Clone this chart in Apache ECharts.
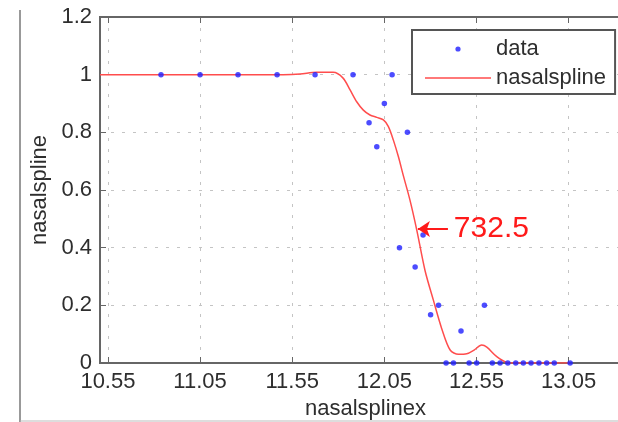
<!DOCTYPE html>
<html><head><meta charset="utf-8">
<script src="https://cdn.jsdelivr.net/npm/echarts@6/dist/echarts.min.js"></script>
<style>html,body{margin:0;padding:0;background:#fff}#c{width:618px;height:422px}</style>
</head><body><div id="c"></div>
<script>
// ---- data ----
const dataX = [10.838, 11.05, 11.256, 11.468, 11.674, 11.88, 11.967, 12.009, 12.05, 12.092, 12.132, 12.175, 12.217, 12.26, 12.301, 12.344, 12.385, 12.425, 12.466, 12.51, 12.551, 12.593, 12.636, 12.678, 12.72, 12.763, 12.804, 12.846, 12.889, 12.931, 12.972, 13.058];
const dataY = [1, 1, 1, 1, 1, 1, 0.833, 0.75, 0.9, 1, 0.4, 0.8, 0.333, 0.444, 0.167, 0.2, 0, 0, 0.111, 0, 0, 0.2, 0, 0, 0, 0, 0, 0, 0, 0, 0, 0];
const splineX = [10.507, 11.2, 11.5, 11.593, 11.68, 11.772, 11.826, 11.864, 11.9, 11.936, 11.972, 12.009, 12.045, 12.072, 12.099, 12.126, 12.153, 12.189, 12.226, 12.271, 12.316, 12.361, 12.407, 12.452, 12.497, 12.537, 12.578, 12.606, 12.66, 12.714, 12.75, 13.058];
const splineY = [1, 1, 1, 1.002, 1.008, 1.008, 0.988, 0.947, 0.906, 0.877, 0.86, 0.852, 0.843, 0.82, 0.773, 0.716, 0.65, 0.565, 0.461, 0.32, 0.218, 0.12, 0.045, 0.03, 0.032, 0.045, 0.062, 0.055, 0.022, 0.002, 0, 0];
const xTicks = [10.55, 11.05, 11.55, 12.05, 12.55, 13.05];
const yTicks = [0, 0.2, 0.4, 0.6, 0.8, 1, 1.2];
const annotText = '732.5';
const annotArrowFrom = [12.395, 0.465];
const annotArrowTo = [12.232, 0.465];
const annotTextAt = [12.40, 0.465];

const FONT = '"Liberation Sans", Arial, Helvetica, sans-serif';
const TXT = '#2e2e2e';
const DOT = '#1f1fff';
const RED = '#ff4d4d';
const FS = 22;
const chart = echarts.init(document.getElementById('c'), null, {renderer: 'canvas'});

function svgIcon(inner) {
  return 'image://data:image/svg+xml;charset=utf-8,' + encodeURIComponent(
    '<svg xmlns="http://www.w3.org/2000/svg" width="66" height="14" viewBox="0 0 66 14">' + inner + '</svg>');
}
const dataIcon = svgIcon('<circle cx="33" cy="7" r="2.6" fill="' + DOT + '"/>');
const lineIcon = svgIcon('<line x1="0" y1="7" x2="66" y2="7" stroke="' + RED + '" stroke-width="1.6"/>');

const xAxisCommon = {
  type: 'value', min: 10.507, max: 13.345,
  axisLine: {show: true, onZero: false, lineStyle: {color: '#666', width: 2}},
};

chart.setOption({
  animation: false,
  backgroundColor: '#fff',
  textStyle: {fontFamily: FONT},
  grid: {left: 100, top: 17, right: -5, bottom: 59, show: true, borderColor: '#666', borderWidth: 2, outerBoundsMode: 'none', containLabel: false},
  xAxis: [
    Object.assign({}, xAxisCommon, {
      position: 'bottom',
      name: 'nasalsplinex', nameLocation: 'middle', nameGap: 29,
      nameTextStyle: {fontSize: FS, color: TXT, fontFamily: FONT, padding: [0, 0, 0, 8]},
      axisTick: {show: true, inside: true, length: 6, customValues: xTicks, lineStyle: {color: '#666'}},
      axisLabel: {customValues: xTicks, formatter: v => v.toFixed(2), fontSize: FS, color: TXT, margin: 8, fontFamily: FONT},
      splitLine: {show: true, lineStyle: {type: [3, 8], color: '#c4c4c4', width: 1}}
    }),
    Object.assign({}, xAxisCommon, {
      position: 'top',
      axisTick: {show: true, inside: true, length: 6, customValues: xTicks, lineStyle: {color: '#666'}},
      axisLabel: {show: false},
      splitLine: {show: false}
    })
  ],
  yAxis: {
    type: 'value', min: 0, max: 1.2, interval: 0.2,
    name: 'nasalspline', nameLocation: 'middle', nameGap: 48,
    nameTextStyle: {fontSize: FS, color: TXT, fontFamily: FONT},
    axisLine: {show: true, lineStyle: {color: '#666', width: 2}},
    axisTick: {show: true, inside: true, length: 6, lineStyle: {color: '#666'}},
    axisLabel: {customValues: yTicks, formatter: v => String(+v.toFixed(1)), fontSize: FS, color: TXT, margin: 8, fontFamily: FONT},
    splitLine: {show: true, lineStyle: {type: [3, 8], color: '#c4c4c4', width: 1}}
  },
  legend: {
    data: [{name: 'data', icon: dataIcon}, {name: 'nasalspline', icon: lineIcon}],
    left: 412, top: 30, orient: 'vertical',
    itemWidth: 66, itemHeight: 14, itemGap: 7,
    padding: [8, 9, 5, 13],
    backgroundColor: '#fff', borderColor: '#555', borderWidth: 2,
    textStyle: {fontSize: FS, color: TXT, fontFamily: FONT},
    selectedMode: false, z: 20
  },
  series: [
    {
      name: 'nasalspline', type: 'line', symbol: 'none', smooth: 0.3,
      data: splineX.map((x, i) => [x, splineY[i]]),
      lineStyle: {color: RED, width: 1.5},
      itemStyle: {color: RED},
      z: 3,
      markLine: {
        silent: true, symbol: ['none', 'arrow'], symbolSize: 12,
        lineStyle: {color: '#ff1a1a', width: 2, type: 'solid'},
        itemStyle: {color: '#ff1a1a'},
        label: {show: false},
        data: [[{coord: annotArrowFrom}, {coord: annotArrowTo}]]
      },
      markPoint: {
        silent: true, symbol: 'circle', symbolSize: 0,
        data: [{coord: annotTextAt, value: annotText}],
        label: {show: true, position: 'right', distance: 5, formatter: annotText, fontSize: 30, color: '#ff1a1a', fontFamily: FONT}
      }
    },
    {
      name: 'data', type: 'scatter', symbol: 'circle', symbolSize: 5.5,
      data: dataX.map((x, i) => [x, dataY[i]]),
      itemStyle: {color: DOT},
      z: 4
    }
  ],
  graphic: [
    {type: 'line', shape: {x1: 20, y1: 10, x2: 20, y2: 422}, style: {stroke: '#999', lineWidth: 2}},
    {type: 'line', shape: {x1: 20, y1: 421, x2: 618, y2: 421}, style: {stroke: '#bbb', lineWidth: 1}}
  ]
});
</script></body></html>
